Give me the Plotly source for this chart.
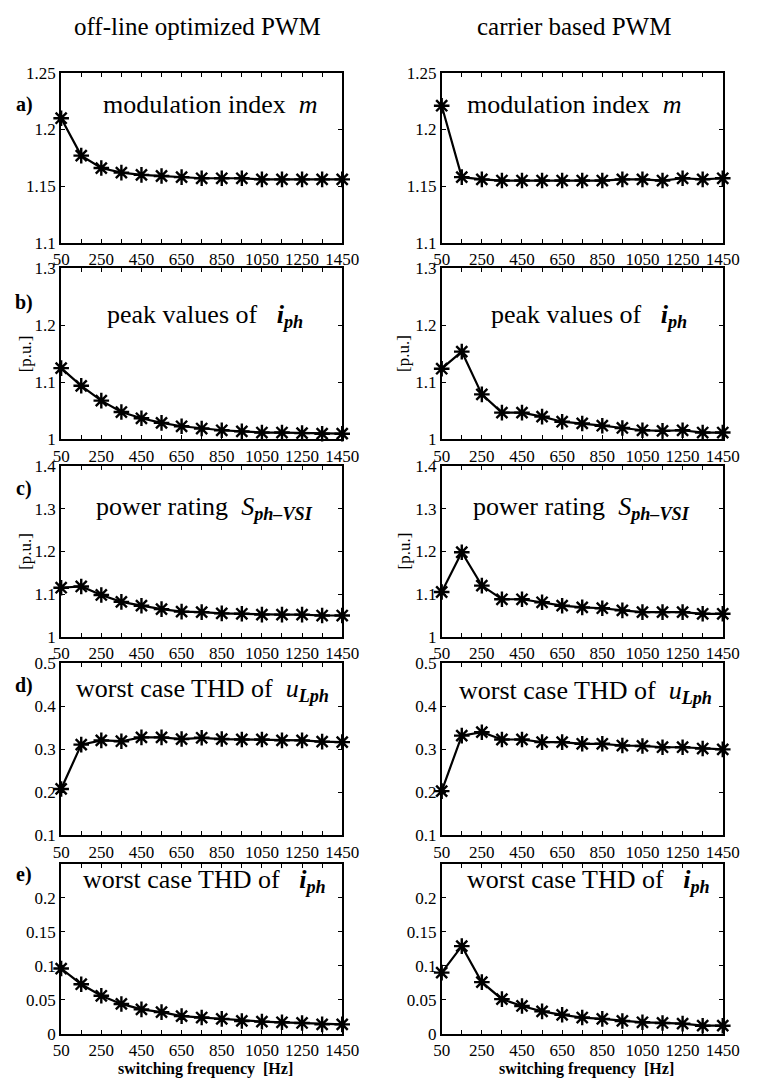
import plotly.graph_objects as go

# ---------------- data ----------------
freq = [50, 150, 250, 350, 450, 550, 650, 750, 850, 950, 1050, 1150, 1250, 1350, 1450]
x_tick_vals = [50, 150, 250, 350, 450, 550, 650, 750, 850, 950, 1050, 1150, 1250, 1350, 1450]
x_tick_text = ["50", "", "250", "", "450", "", "650", "", "850", "", "1050", "", "1250", "", "1450"]

col_titles = ["off-line optimized PWM", "carrier based PWM"]
x_title = "switching frequency  [Hz]"

# a) modulation index m
mod_opt = [1.210, 1.177, 1.166, 1.162, 1.160, 1.159, 1.158, 1.157, 1.157, 1.157, 1.156, 1.156, 1.156, 1.156, 1.156]
mod_car = [1.221, 1.158, 1.156, 1.155, 1.155, 1.155, 1.155, 1.155, 1.155, 1.156, 1.156, 1.155, 1.157, 1.156, 1.157]
# b) peak values of i_ph
peak_opt = [1.125, 1.094, 1.068, 1.048, 1.037, 1.029, 1.023, 1.019, 1.016, 1.014, 1.012, 1.012, 1.011, 1.010, 1.010]
peak_car = [1.124, 1.154, 1.079, 1.047, 1.047, 1.040, 1.031, 1.028, 1.024, 1.020, 1.016, 1.015, 1.016, 1.012, 1.012]
# c) power rating S_ph-VSI
pow_opt = [1.115, 1.118, 1.098, 1.082, 1.073, 1.065, 1.059, 1.058, 1.055, 1.054, 1.052, 1.052, 1.052, 1.050, 1.050]
pow_car = [1.105, 1.198, 1.120, 1.088, 1.088, 1.081, 1.073, 1.069, 1.067, 1.062, 1.058, 1.058, 1.058, 1.054, 1.054]
# d) worst case THD of u_Lph
thdu_opt = [0.208, 0.311, 0.321, 0.319, 0.328, 0.328, 0.324, 0.327, 0.324, 0.323, 0.323, 0.321, 0.321, 0.318, 0.317]
thdu_car = [0.203, 0.332, 0.340, 0.323, 0.323, 0.317, 0.317, 0.313, 0.313, 0.309, 0.308, 0.305, 0.305, 0.302, 0.300]
# e) worst case THD of i_ph
thdi_opt = [0.096, 0.073, 0.056, 0.044, 0.036, 0.032, 0.026, 0.024, 0.022, 0.019, 0.018, 0.017, 0.016, 0.014, 0.014]
thdi_car = [0.090, 0.129, 0.076, 0.051, 0.041, 0.033, 0.028, 0.024, 0.022, 0.019, 0.017, 0.016, 0.015, 0.012, 0.012]

panel_letters = ["a)", "b)", "c)", "d)", "e)"]
NB = "\u00a0"
panel_texts = [
    "modulation index" + NB * 2 + "<i>m</i>",
    "peak values of" + NB * 3 + "<i><b>i</b></i><sub><i><b>ph</b></i></sub>",
    "power rating" + NB * 2 + "<i>S</i><sub><i><b>ph\u2013VSI</b></i></sub>",
    "worst case THD of" + NB * 2 + "<i>u</i><sub><i><b>Lph</b></i></sub>",
    "worst case THD of" + NB * 3 + "<i><b>i</b></i><sub><i><b>ph</b></i></sub>",
]
series = [(mod_opt, mod_car), (peak_opt, peak_car), (pow_opt, pow_car),
          (thdu_opt, thdu_car), (thdi_opt, thdi_car)]
y_ranges = [(1.1, 1.25), (1.0, 1.3), (1.0, 1.4), (0.1, 0.5), (0.0, 0.25)]
y_tick_vals = [[1.1, 1.15, 1.2, 1.25], [1.0, 1.1, 1.2, 1.3], [1.0, 1.1, 1.2, 1.3, 1.4],
               [0.1, 0.2, 0.3, 0.4, 0.5], [0.0, 0.05, 0.1, 0.15, 0.2]]
y_tick_text = [["1.1", "1.15", "1.2", "1.25"], ["1", "1.1", "1.2", "1.3"],
               ["1", "1.1", "1.2", "1.3", "1.4"], ["0.1", "0.2", "0.3", "0.4", "0.5"],
               ["0", "0.05", "0.1", "0.15", "0.2"]]
pu_label = [False, True, True, False, False]
y_unit = "[p.u.]"

# ---------------- layout geometry (pixels) ----------------
W, H = 761, 1092
col_px = [(54, 345), (448, 739)]
row_px = [(65, 238), (264, 438), (465, 639), (666, 841), (870, 1043)]
text_pos = [[(208, 97), (585, 97)], [(203, 312), (600, 312)], [(202, 508), (593, 508)],
            [(200, 693), (597, 695)], [(202, 887), (600, 887)]]
letter_y = [97, 299, 488, 688, 881]

FONT = "Liberation Serif"


def px(x):
    return x / W


def py(y):
    return 1 - y / H


fig = go.Figure()
layout = {}
annotations = []
for r in range(5):
    for c in range(2):
        idx = r * 2 + c + 1
        xa = "x" if idx == 1 else f"x{idx}"
        ya = "y" if idx == 1 else f"y{idx}"
        xkey = "xaxis" if idx == 1 else f"xaxis{idx}"
        ykey = "yaxis" if idx == 1 else f"yaxis{idx}"
        fig.add_trace(go.Scatter(
            x=freq, y=series[r][c], xaxis=xa, yaxis=ya, mode="lines+markers",
            line=dict(color="black", width=2.2),
            marker=dict(symbol="asterisk-open", size=13,
                        line=dict(color="black", width=2.4), color="black"),
            cliponaxis=False, showlegend=False, hoverinfo="skip"))
        x0, x1 = col_px[c]
        t, b = row_px[r]
        layout[xkey] = dict(
            domain=[px(x0), px(x1)], anchor=ya, range=[50, 1450],
            tickmode="array", tickvals=x_tick_vals, ticktext=x_tick_text,
            ticks="inside", ticklen=4, tickwidth=1.3, tickcolor="black",
            showline=True, linecolor="black", linewidth=1.8, mirror="allticks",
            showgrid=False, zeroline=False,
            tickfont=dict(family=FONT, size=17, color="black"))
        layout[ykey] = dict(
            domain=[py(b), py(t)], anchor=xa, range=list(y_ranges[r]),
            tickmode="array", tickvals=y_tick_vals[r], ticktext=y_tick_text[r],
            ticks="inside", ticklen=4, tickwidth=1.3, tickcolor="black",
            showline=True, linecolor="black", linewidth=1.8, mirror="allticks",
            showgrid=False, zeroline=False,
            tickfont=dict(family=FONT, size=17, color="black"))
        tx, ty = text_pos[r][c]
        annotations.append(dict(
            x=px(tx), y=py(ty), xref="paper", yref="paper", text=panel_texts[r],
            showarrow=False, xanchor="center", yanchor="middle",
            font=dict(family=FONT, size=26, color="black")))
        if c == 0:
            annotations.append(dict(
                x=px(16), y=py(letter_y[r]), xref="paper", yref="paper",
                text="<b>" + panel_letters[r] + "</b>", showarrow=False,
                xanchor="center", yanchor="middle",
                font=dict(family=FONT, size=20, color="black")))
        if pu_label[r]:
            annotations.append(dict(
                x=px(17 if c == 0 else 409), y=py((t + b) / 2), xref="paper", yref="paper",
                text=y_unit, textangle=-90, showarrow=False,
                xanchor="center", yanchor="middle",
                font=dict(family=FONT, size=17, color="black")))
        if r == 4:
            annotations.append(dict(
                x=px((x0 + x1) / 2 + 4), y=py(1079), xref="paper", yref="paper",
                text="<b>" + x_title + "</b>", showarrow=False,
                xanchor="center", yanchor="middle", borderpad=0,
                font=dict(family=FONT, size=16, color="black")))

for c, (cx, cy) in enumerate([(195, 18), (585, 18)]):
    annotations.append(dict(
        x=px(cx), y=py(cy), xref="paper", yref="paper", text=col_titles[c],
        showarrow=False, xanchor="center", yanchor="middle",
        font=dict(family=FONT, size=25, color="black")))

fig.update_layout(
    width=W, height=H, margin=dict(l=0, r=0, t=0, b=0),
    paper_bgcolor="white", plot_bgcolor="white",
    font=dict(family=FONT, color="black"),
    annotations=annotations, **layout)

fig.write_html("out.html", config={"displayModeBar": False})
